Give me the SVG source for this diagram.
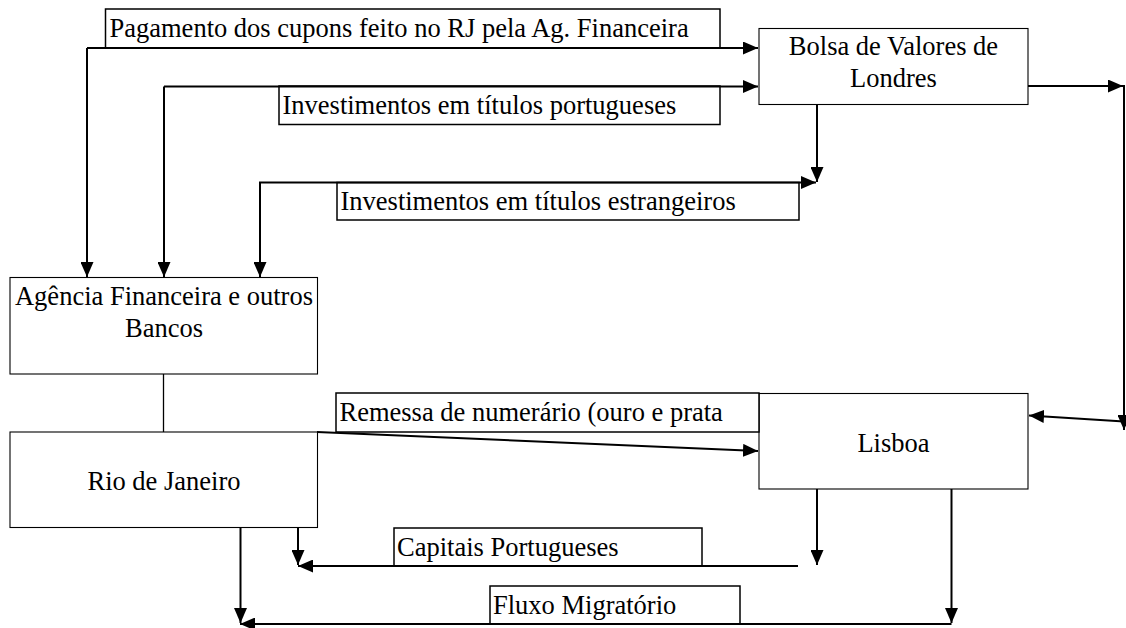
<svg xmlns="http://www.w3.org/2000/svg" width="1126" height="628" viewBox="0 0 1126 628">
<style>
  text { font-family: "Liberation Serif", "Times New Roman", serif; font-size: 26.5px; fill: #000; }
  .node rect { fill: #fff; stroke: #000; stroke-width: 1.1; }
  .lbl rect { fill: #fff; stroke: #000; stroke-width: 1.5; }
  .c { fill: none; stroke: #000; stroke-width: 2; }
  .thin { fill: none; stroke: #000; stroke-width: 1.3; }
  .mid { text-anchor: middle; }
</style>
<defs>
  <marker id="ah" markerWidth="15" markerHeight="13" refX="15" refY="6.5" orient="auto" markerUnits="userSpaceOnUse">
    <path d="M0,0 L15,6.5 L0,13 z" fill="#000"/>
  </marker>
</defs>
<rect x="0" y="0" width="1126" height="628" fill="#fff"/>

<g id="nodes">
  <g id="bolsa" class="node">
    <rect x="759" y="28.5" width="269" height="76"/>
    <text class="mid" x="893.5" y="55">Bolsa de Valores de</text>
    <text class="mid" x="893.5" y="87">Londres</text>
  </g>
  <g id="agencia" class="node">
    <rect x="10" y="277.5" width="307.5" height="96.5"/>
    <text class="mid" x="164" y="305">Agência Financeira e outros</text>
    <text class="mid" x="164" y="337">Bancos</text>
  </g>
  <g id="rio" class="node">
    <rect x="10" y="432" width="307.5" height="95.5"/>
    <text class="mid" x="164" y="490">Rio de Janeiro</text>
  </g>
  <g id="lisboa" class="node">
    <rect x="759" y="393.5" width="269" height="95.5"/>
    <text class="mid" x="893.5" y="452">Lisboa</text>
  </g>
</g>

<g id="labels">
  <g id="lbl-pagamento" class="lbl">
    <rect x="105.5" y="9" width="614.5" height="39"/>
    <text x="109.5" y="37">Pagamento dos cupons feito no RJ pela Ag. Financeira</text>
  </g>
  <g id="lbl-portugueses" class="lbl">
    <rect x="279" y="86" width="441" height="38.5"/>
    <text x="282.5" y="113.5">Investimentos em títulos portugueses</text>
  </g>
  <g id="lbl-estrangeiros" class="lbl">
    <rect x="337" y="182.5" width="462" height="37.5"/>
    <text x="340.5" y="210">Investimentos em títulos estrangeiros</text>
  </g>
  <g id="lbl-remessa" class="lbl">
    <rect x="336" y="393" width="423" height="39"/>
    <text x="339.5" y="420.5">Remessa de numerário (ouro e prata</text>
  </g>
  <g id="lbl-capitais" class="lbl">
    <rect x="394" y="528" width="308" height="38"/>
    <text x="397" y="556">Capitais Portugueses</text>
  </g>
  <g id="lbl-fluxo" class="lbl">
    <rect x="490" y="586" width="250" height="38"/>
    <text x="493" y="614">Fluxo Migratório</text>
  </g>
</g>

<g id="connectors">
  <path class="c" d="M87,48 V277" marker-end="url(#ah)"/>
  <path class="c" d="M87,48 H758" marker-end="url(#ah)"/>
  <path class="c" d="M164,86.5 V277" marker-end="url(#ah)"/>
  <path class="c" d="M164,86.5 H758" marker-end="url(#ah)"/>
  <path class="c" d="M817,105 V182" marker-end="url(#ah)"/>
  <path class="c" d="M259,182.5 H816" marker-end="url(#ah)"/>
  <path class="c" d="M260,182.5 V277" marker-end="url(#ah)"/>
  <path class="c" d="M1028,86 H1123" marker-end="url(#ah)"/>
  <path class="c" d="M1124,85 V430" marker-end="url(#ah)"/>
  <path class="c" d="M1124,421.5 L1029,415.5" marker-end="url(#ah)"/>
  <path class="thin" d="M163.5,374 V432"/>
  <path class="c" d="M317,432 L758,451" marker-end="url(#ah)"/>
  <path class="c" d="M817,489 V565" marker-end="url(#ah)"/>
  <path class="c" d="M798,566 H298" marker-end="url(#ah)"/>
  <path class="c" d="M298,527.5 V565" marker-end="url(#ah)"/>
  <path class="c" d="M951.5,489 V623" marker-end="url(#ah)"/>
  <path class="c" d="M951.5,624 H240" marker-end="url(#ah)"/>
  <path class="c" d="M240.5,527.5 V623" marker-end="url(#ah)"/>
</g>
</svg>
